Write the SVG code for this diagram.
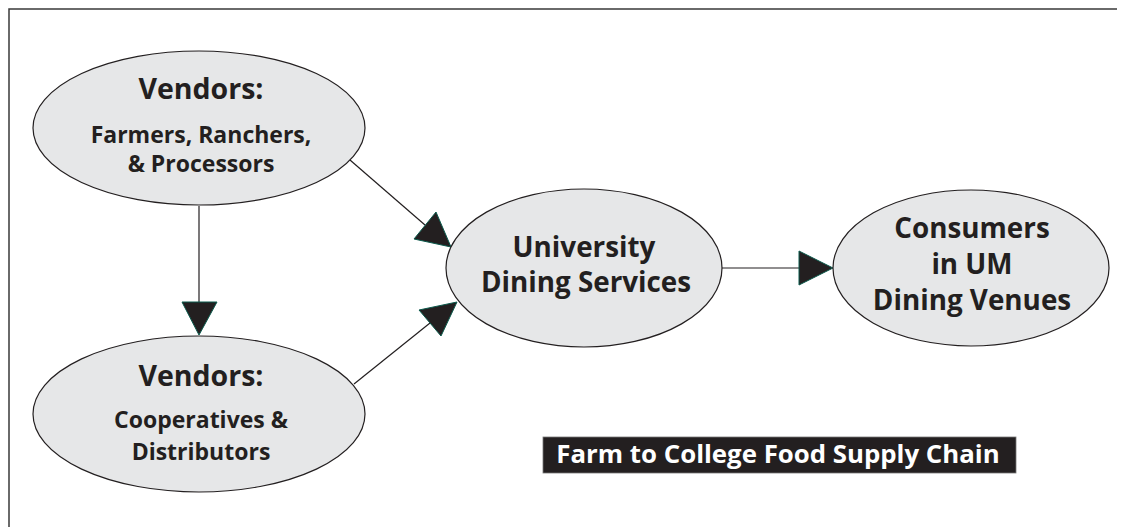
<svg xmlns="http://www.w3.org/2000/svg" width="1127" height="527" viewBox="0 0 1127 527">
  <style>
    .frame { fill: none; stroke: #3a3a3a; stroke-width: 1.5; }
    .node ellipse { fill: #e6e7e8; stroke: #231f20; stroke-width: 1.2; }
    .node text { font-family: "Open Sans", "Liberation Sans", sans-serif; font-weight: bold; fill: #231f20; text-anchor: middle; }
    .head { font-size: 28.5px; }
    .sub { font-size: 23px; }
    .big { font-size: 27.8px; }
    .edge { stroke: #231f20; stroke-width: 1.2; fill: none; }
    .tip { fill: #231f20; stroke: #0b5a4c; stroke-width: 1; stroke-linejoin: miter; }
    .title-bg { fill: #231f20; stroke: #777; stroke-width: 0.8; }
    .title { font-family: "Open Sans", "Liberation Sans", sans-serif; font-weight: bold; font-size: 25.8px; fill: #ffffff; }
  </style>

  <rect width="1127" height="527" fill="#ffffff"/>
  <path class="frame" d="M9,527 V9 H1117"/>

  <g id="connectors">
    <!-- farmers to cooperatives -->
    <line class="edge" x1="199" y1="206" x2="199" y2="302"/>
    <polygon class="tip" points="182,302 217,302 199,335"/>
    <!-- farmers to dining services -->
    <line class="edge" x1="350" y1="160" x2="425" y2="225"/>
    <polygon class="tip" points="436,212 414,239 451,247"/>
    <!-- cooperatives to dining services -->
    <line class="edge" x1="354" y1="384" x2="430" y2="323"/>
    <polygon class="tip" points="419,310 441,336 457,302"/>
    <!-- dining services to consumers -->
    <line class="edge" x1="722" y1="268" x2="799" y2="268"/>
    <polygon class="tip" points="799,251 799,285 833,268"/>
  </g>

  <g id="vendors-farmers" class="node">
    <ellipse cx="199" cy="128" rx="166" ry="77"/>
    <text class="head" x="201" y="99">Vendors:</text>
    <text class="sub" x="201" y="143">Farmers, Ranchers,</text>
    <text class="sub" x="201" y="172">&amp; Processors</text>
  </g>

  <g id="vendors-cooperatives" class="node">
    <ellipse cx="199" cy="414" rx="166" ry="78"/>
    <text class="head" x="201" y="386">Vendors:</text>
    <text class="sub" x="201" y="428">Cooperatives &amp;</text>
    <text class="sub" x="201" y="460">Distributors</text>
  </g>

  <g id="dining-services" class="node">
    <ellipse cx="584" cy="268" rx="138" ry="79"/>
    <text class="big" x="584" y="257">University</text>
    <text class="big" x="586" y="292">Dining Services</text>
  </g>

  <g id="consumers" class="node">
    <ellipse cx="971" cy="268" rx="138" ry="78"/>
    <text class="big" x="972" y="238">Consumers</text>
    <text class="big" x="972" y="274">in UM</text>
    <text class="big" x="972" y="310">Dining Venues</text>
  </g>

  <g id="caption">
    <rect class="title-bg" x="543" y="437" width="473" height="36"/>
    <text class="title" x="778" y="463" text-anchor="middle">Farm to College Food Supply Chain</text>
  </g>
</svg>
